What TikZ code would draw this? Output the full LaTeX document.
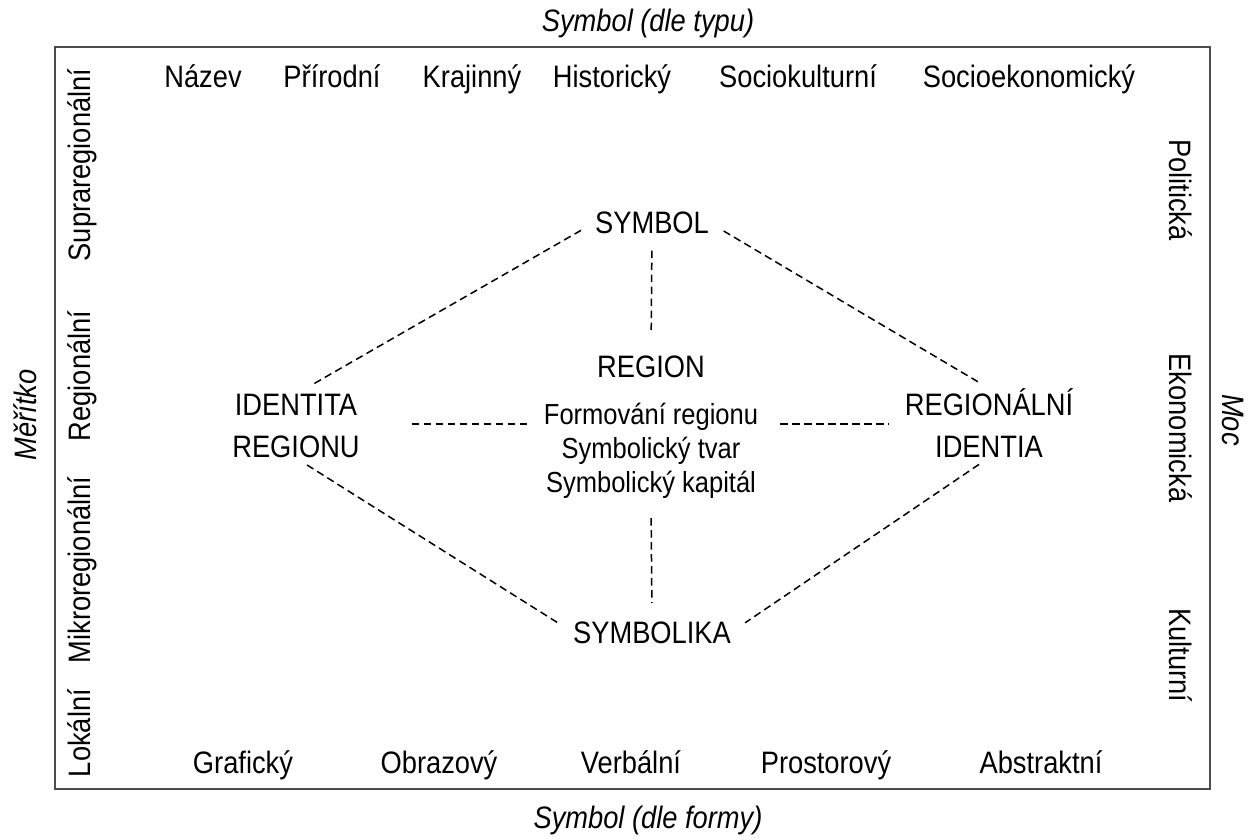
\documentclass[tikz,border=0pt]{standalone}
\usepackage{fontspec}
\setmainfont[FakeStretch=0.88]{Liberation Sans}
\begin{document}
\begin{tikzpicture}[x=1pt,y=-1pt,
  lbl/.style={font=\fontsize{31}{42}\selectfont, inner sep=0pt, anchor=base},
  sub/.style={lbl, font=\fontsize{29}{34}\selectfont},
  ttl/.style={lbl, font=\fontsize{31}{42}\selectfont\itshape},
  left/.style={lbl, rotate=90},
  right/.style={lbl, rotate=-90},
  two/.style={font=\fontsize{31}{42}\selectfont, inner sep=0pt, align=center},
  dline/.style={dash pattern=on 7.5pt off 4.5pt, line width=1.5pt},
  frame/.style={draw=black!70, line width=1.5pt}]
\useasboundingbox (0,0) rectangle (1249,839);
\draw[frame] (55,47) rectangle (1210,789);
% titles
\node[ttl] (ttop) at (648,31) {Symbol (dle typu)};
\node[ttl] (tbot) at (648,828) {Symbol (dle formy)};
\node[ttl, rotate=90] (tleft) at (36,415) {Měřítko};
\node[ttl, rotate=-90] (tright) at (1222,420) {Moc};
% top row
\node[lbl] (nazev) at (203,87) {Název};
\node[lbl] (prir) at (332,87) {Přírodní};
\node[lbl] (kraj) at (472,87) {Krajinný};
\node[lbl] (hist) at (612,87) {Historický};
\node[lbl] (sock) at (798,87) {Sociokulturní};
\node[lbl] (soce) at (1029,87) {Socioekonomický};
% bottom row
\node[lbl] (graf) at (243,773) {Grafický};
\node[lbl] (obr) at (439,773) {Obrazový};
\node[lbl] (verb) at (631,773) {Verbální};
\node[lbl] (pros) at (826,773) {Prostorový};
\node[lbl] (abst) at (1041,773) {Abstraktní};
% left column
\node[left] (supra) at (90,165) {Supraregionální};
\node[left] (reg) at (90,376) {Regionální};
\node[left] (mikro) at (90,570) {Mikroregionální};
\node[left] (lok) at (90,733) {Lokální};
% right column
\node[right] (pol) at (1169,190) {Politická};
\node[right] (eko) at (1169,428) {Ekonomická};
\node[right] (kul) at (1169,655) {Kulturní};
% centre
\node[lbl] (symbol) at (652,233) {SYMBOL};
\node[lbl] (region) at (651,377) {REGION};
\node[sub] (form) at (651,424) {Formování regionu};
\node[sub] (tvar) at (651,458) {Symbolický tvar};
\node[sub] (kapital) at (651,492) {Symbolický kapitál};
\node[lbl] (symbolika) at (652,643) {SYMBOLIKA};
\node[two] (identita) at (296,426) {IDENTITA\\REGIONU};
\node[two] (regid) at (989,423) {REGIONÁLNÍ\\IDENTIA};
% connectors
\draw[dline, shorten <=16pt, shorten >=17pt] (symbol.west) -- (identita.north);
\draw[dline, shorten <=17pt, shorten >=13pt] (symbol.east) -- (regid.north);
\draw[dline, shorten <=17pt, shorten >=21pt] (symbol.south) -- (region.north);
\draw[dline, shorten <=52pt, shorten >=15pt] (identita.east |- form.base west) -- (form.base west);
\draw[dline, shorten <=22pt, shorten >=16pt] (form.base east) -- (regid.west |- form.base east);
\draw[dline, shorten <=20pt, shorten >=18pt] (kapital.south) -- (symbolika.north);
\draw[dline, shorten <=13pt, shorten >=18pt] (identita.south) -- (symbolika.west);
\draw[dline, shorten <=12pt, shorten >=17pt] (regid.south) -- (symbolika.east);
\end{tikzpicture}
\end{document}
